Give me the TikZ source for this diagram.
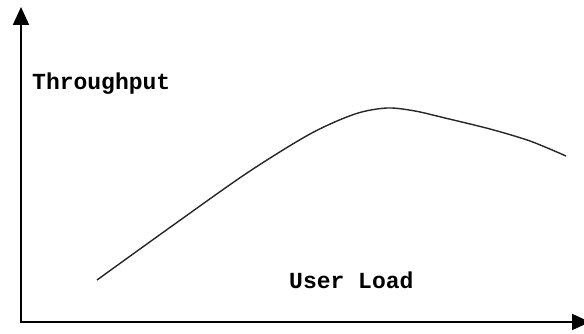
\documentclass[tikz,border=0pt]{standalone}
\usepackage{fontspec}
\setmonofont{Liberation Mono}
\usetikzlibrary{arrows.meta}
\begin{document}
\begin{tikzpicture}[x=1pt,y=-1pt,
  axis/.style={line width=1.8pt,-{Triangle[length=18pt,width=16pt]}},
  curve/.style={line width=1.4pt,black!85},
  lbl/.style={font=\ttfamily\bfseries\fontsize{23}{26}\selectfont,anchor=base west,inner sep=0pt}]
\useasboundingbox (0,0) rectangle (584,334);
\coordinate (o) at (21,322);
\coordinate (ytop) at (21,7);
\coordinate (xend) at (590,322);
\draw[axis] (o) -- (ytop);
\draw[axis] ([xshift=-0.9pt]o) -- (xend);
\draw[curve] plot[smooth,tension=0.5] coordinates {(97,280) (172,226) (247,173) (310,134) (355,114) (387,108) (415,111) (445,118) (490,129) (530,141) (566,156)};
\node[lbl] (ty) at (32,90) {Throughput};
\node[lbl] (tx) at (289,288) {User Load};
\end{tikzpicture}
\end{document}
